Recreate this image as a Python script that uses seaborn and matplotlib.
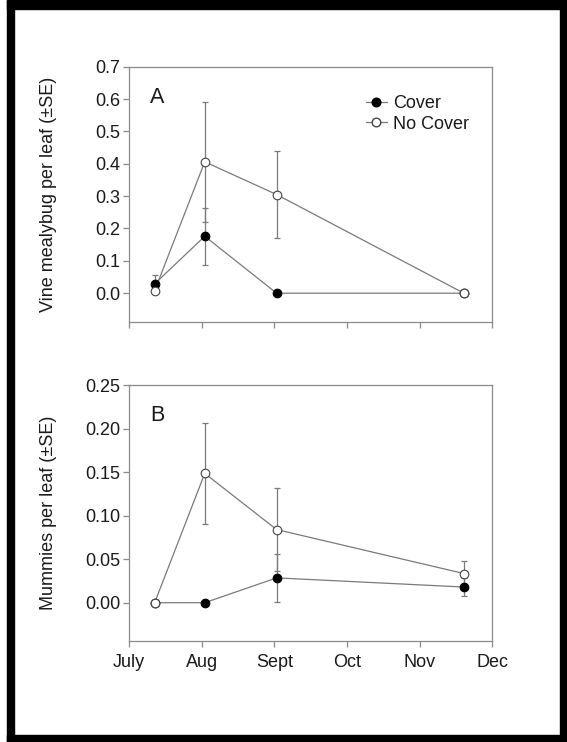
import numpy as np
import pandas as pd
import matplotlib
matplotlib.use("Agg")
import matplotlib.pyplot as plt
from matplotlib.lines import Line2D
from matplotlib.patches import Rectangle
import seaborn as sns

# Sampling dates, in months after 1 July
sample_month = [0.35, 1.04, 2.03, 4.61]
month_ticks = [0, 1, 2, 3, 4, 5]
month_labels = ["July", "Aug", "Sept", "Oct", "Nov", "Dec"]

# Panel A: vine mealybug per leaf
mealybug_cover = [0.029, 0.176, 0.0, 0.0]
mealybug_cover_se = [0.027, 0.088, 0.0, 0.0]
mealybug_nocover = [0.008, 0.406, 0.305, 0.0]
mealybug_nocover_se = [0.0, 0.186, 0.134, 0.0]

# Panel B: mummies per leaf
mummies_cover = [0.0, 0.0, 0.0285, 0.0180]
mummies_cover_se = [0.0, 0.0, 0.0280, 0.0100]
mummies_nocover = [0.0, 0.1485, 0.0840, 0.0335]
mummies_nocover_se = [0.0, 0.0580, 0.0475, 0.0145]

treatments = ["Cover", "No Cover"]

sns.set_style("ticks")
plt.rcParams["font.family"] = ["Liberation Sans", "DejaVu Sans"]

GREY = "#7a7a7a"
SPINE = "#8a8a8a"
TXT = "#1a1a1a"
FS = 13

fig = plt.figure(figsize=(5.67, 7.42), dpi=100)
fig.patch.set_facecolor("white")

# black page frame
for (x0, y0, w, h) in [(7, 0, 6.5, 742), (560, 0, 7, 742), (7, 0, 560, 8.5), (7, 735, 560, 7)]:
    fig.patches.append(Rectangle((x0 / 567, 1 - (y0 + h) / 742), w / 567, h / 742,
                                 transform=fig.transFigure, color="black", zorder=0))

axA = fig.add_axes([0.228, 0.5656, 0.640, 0.3445])
axB = fig.add_axes([0.228, 0.1361, 0.640, 0.3450])


def panel(ax, cover, cover_se, nocover, nocover_se, ylim, yticks, fmt, letter, ylabel):
    df = pd.DataFrame({
        "month": sample_month * 2,
        "value": cover + nocover,
        "treatment": ["Cover"] * len(cover) + ["No Cover"] * len(nocover),
    })
    # error bars behind the markers
    for vals, se in [(cover, cover_se), (nocover, nocover_se)]:
        m = np.array(se) > 0
        ax.errorbar(np.array(sample_month)[m], np.array(vals)[m], yerr=np.array(se)[m],
                    fmt="none", ecolor=GREY, elinewidth=0.9, capsize=2.2, capthick=0.9, zorder=2)
    sns.lineplot(data=df, x="month", y="value", hue="treatment", hue_order=treatments,
                 palette={"Cover": GREY, "No Cover": GREY}, linewidth=0.9,
                 legend=False, ax=ax, zorder=3)
    ax.plot(sample_month, cover, "o", ms=6.2, mfc="black", mec="black", mew=0.8, zorder=4)
    ax.plot(sample_month, nocover, "o", ms=6.2, mfc="white", mec="#444444", mew=0.8, zorder=5)

    ax.set_xlim(0, 5)
    ax.set_ylim(*ylim)
    ax.set_xticks(month_ticks)
    ax.set_yticks(yticks)
    ax.set_yticklabels([fmt.format(v) for v in yticks])
    ax.set_xlabel("")
    ax.set_ylabel(ylabel, fontsize=FS, color=TXT)
    ax.yaxis.set_label_coords(-0.198, 0.5)
    ax.tick_params(axis="both", direction="out", length=4.5, width=0.9, color=SPINE,
                   labelsize=FS, labelcolor=TXT, pad=1.8)
    for s in ax.spines.values():
        s.set_color(SPINE)
        s.set_linewidth(0.9)
    ax.text(0.057, 0.88, letter, transform=ax.transAxes, fontsize=15.5, color=TXT,
            va="center", ha="left")


panel(axA, mealybug_cover, mealybug_cover_se, mealybug_nocover, mealybug_nocover_se,
      (-0.09, 0.7), [0.0, 0.1, 0.2, 0.3, 0.4, 0.5, 0.6, 0.7], "{:.1f}", "A",
      "Vine mealybug per leaf (\u00b1SE)")
panel(axB, mummies_cover, mummies_cover_se, mummies_nocover, mummies_nocover_se,
      (-0.044, 0.25), [0.0, 0.05, 0.10, 0.15, 0.20, 0.25], "{:.2f}", "B",
      "Mummies per leaf (\u00b1SE)")

axA.set_xticklabels([])
axB.set_xticklabels(month_labels)
axB.tick_params(axis="x", pad=5)

handles = [
    Line2D([], [], color=GREY, lw=0.9, marker="o", ms=6.2, mfc="black", mec="black"),
    Line2D([], [], color=GREY, lw=0.9, marker="o", ms=6.2, mfc="white", mec="#444444"),
]
leg = axA.legend(handles, treatments, loc="upper left", bbox_to_anchor=(0.652, 0.89),
                 frameon=False, fontsize=FS, handlelength=1.15, handletextpad=0.35,
                 labelspacing=0.22, borderaxespad=0.0, borderpad=0.0)
for t in leg.get_texts():
    t.set_color(TXT)

fig.savefig("out.png", dpi=100, facecolor="white")
